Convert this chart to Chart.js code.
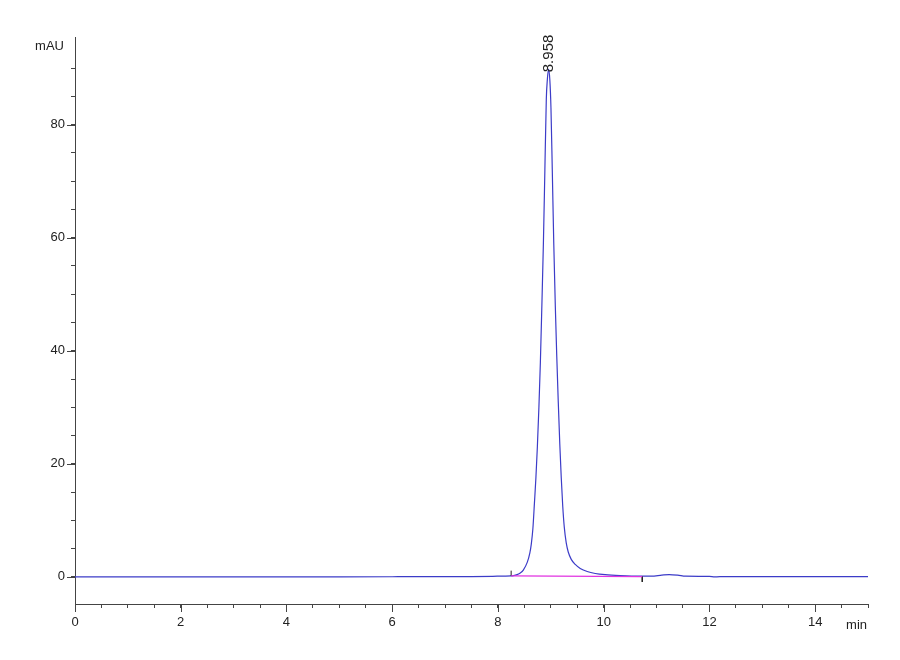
<!DOCTYPE html>
<html lang="en">
<head>
    <meta charset="UTF-8">
    <script src="https://cdn.jsdelivr.net/npm/chart.js"></script>
    <title>Chromatogram</title>
    <style>
        body { margin: 0; background: #fff; }
        #wrap { width: 900px; height: 660px; }
    </style>
</head>
<body>
    <div id="wrap">
        <canvas id="chrom" width="900" height="660"></canvas>
    </div>
    <script>
        // signal trace (min, mAU)
        const times = [0, 1, 2, 3, 4, 5, 6, 6.2, 6.4, 6.6, 7, 7.5, 7.9, 8.1, 8.25,
            8.272, 8.348, 8.423, 8.48, 8.556, 8.603, 8.631, 8.661, 8.69, 8.718, 8.746, 8.775, 8.803,
            8.831, 8.86, 8.888, 8.915, 8.935, 8.958,
            8.981, 9.003, 9.028, 9.056, 9.085, 9.113, 9.141, 9.17, 9.198, 9.226, 9.255, 9.292, 9.33,
            9.387, 9.462, 9.557, 9.689, 9.84, 10.029, 10.313, 10.69,
            10.9, 11.1, 11.24, 11.4, 11.55, 12, 12.1, 12.3, 13, 14, 15];
        const signal = [0, 0, 0, 0, 0, 0, 0.02, 0.05, 0.06, 0.03, 0.03, 0.05, 0.1, 0.14, 0.16,
            0.18, 0.35, 0.7, 1.2, 2.6, 4.2, 5.8, 8.5, 13, 17.5, 23, 30, 38,
            48, 59, 72, 84.5, 88, 89.8,
            88, 83, 72, 59, 48, 39, 31, 23.5, 17.5, 12.5, 8.8, 6, 4.4,
            3.1, 2.2, 1.5, 0.95, 0.6, 0.38, 0.22, 0.12,
            0.12, 0.3, 0.4, 0.3, 0.12, 0.08, 0.0, 0.06, 0.06, 0.06, 0.05];

        // integration baseline and its start / end marks
        const baseTimes = [8.25, 10.73];
        const baseValues = [0.16, 0.06];
        const startMark = [0.16, 1.1];
        const endMark = [0.06, -0.9];

        const peakTime = 8.958;
        const peakHeight = 89.8;
        const peakLabel = '8.958';

        const xMajor = [0, 2, 4, 6, 8, 10, 12, 14];
        const yMajor = [0, 20, 40, 60, 80];

        const FONT = "'Liberation Sans Narrow', 'Liberation Sans', Arial, sans-serif";

        function pts(xs, ys) {
            return xs.map((x, i) => ({ x: x, y: ys[i] }));
        }

        const extras = {
            id: 'extras',
            afterDraw(chart) {
                const c = chart.ctx, xs = chart.scales.x, ys = chart.scales.y, a = chart.chartArea;
                c.save();
                c.strokeStyle = '#444';
                c.lineWidth = 1;
                // longer major ticks
                c.beginPath();
                xMajor.forEach(v => {
                    const px = Math.round(xs.getPixelForValue(v)) + 0.5;
                    c.moveTo(px, a.bottom); c.lineTo(px, a.bottom + 8);
                });
                yMajor.forEach(v => {
                    const py = Math.round(ys.getPixelForValue(v)) + 0.5;
                    c.moveTo(a.left, py); c.lineTo(a.left - 8, py);
                });
                c.stroke();

                c.fillStyle = '#222';
                c.font = '13px ' + FONT;
                c.textAlign = 'right';
                c.textBaseline = 'middle';
                c.fillText('mAU', a.left - 11, a.top + 9);
                c.fillText('min', a.right - 1, a.bottom + 21);

                // peak retention time label
                const px = xs.getPixelForValue(peakTime), py = ys.getPixelForValue(peakHeight);
                c.translate(px, py + 3);
                c.rotate(-Math.PI / 2);
                c.textAlign = 'left';
                c.font = '15px ' + FONT;
                c.fillText(peakLabel, 0, 0);
                c.restore();
            }
        };

        new Chart(document.getElementById('chrom'), {
            type: 'scatter',
            data: {
                datasets: [
                    {
                        data: pts(baseTimes, baseValues),
                        showLine: true, borderColor: 'rgb(225,50,225)', borderWidth: 1.2, pointRadius: 0
                    },
                    {
                        data: pts([baseTimes[0], baseTimes[0]], startMark),
                        showLine: true, borderColor: '#222', borderWidth: 1, pointRadius: 0
                    },
                    {
                        data: pts([baseTimes[1], baseTimes[1]], endMark),
                        showLine: true, borderColor: '#222', borderWidth: 1, pointRadius: 0
                    },
                    {
                        data: pts(times, signal),
                        showLine: true, borderColor: 'rgb(60,60,200)', borderWidth: 1.2, pointRadius: 0,
                        cubicInterpolationMode: 'monotone'
                    }
                ]
            },
            options: {
                responsive: false,
                animation: false,
                layout: { padding: { left: 0, top: 37, right: 32, bottom: 0 } },
                plugins: { legend: { display: false }, tooltip: { enabled: false } },
                scales: {
                    x: {
                        type: 'linear', min: 0, max: 15,
                        afterFit: s => { s.height = 56; },
                        border: { color: '#444', width: 1 },
                        grid: { drawOnChartArea: false, tickLength: 4, color: '#444' },
                        ticks: {
                            stepSize: 0.5, autoSkip: false, maxRotation: 0, padding: 7,
                            color: '#222', font: { family: FONT, size: 13 },
                            callback: v => (v % 2 === 0 && v < 15) ? v : ''
                        }
                    },
                    y: {
                        type: 'linear', min: -4.8, max: 95.5,
                        afterFit: s => { s.width = 75; },
                        afterBuildTicks: s => {
                            s.ticks = s.ticks.filter(t => Math.abs(t.value / 5 - Math.round(t.value / 5)) < 1e-6);
                        },
                        border: { color: '#444', width: 1 },
                        grid: { drawOnChartArea: false, tickLength: 4, color: '#444' },
                        ticks: {
                            stepSize: 5, autoSkip: false, padding: 6,
                            color: '#222', font: { family: FONT, size: 13 },
                            callback: v => (v % 20 === 0) ? v : ''
                        }
                    }
                }
            },
            plugins: [extras]
        });
    </script>
</body>
</html>
